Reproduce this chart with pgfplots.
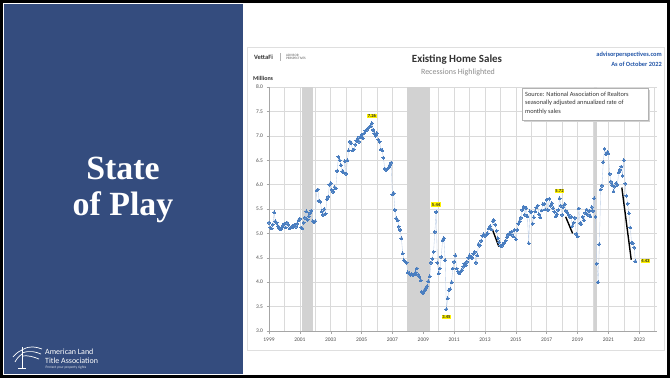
\documentclass[border=0pt]{standalone}
\usepackage{fontspec}
\setmainfont{Carlito}
\newfontfamily\tnr{Liberation Serif}
\usepackage{pgfplots}
\pgfplotsset{compat=1.18}
\usepackage{pgfplotstable}
\definecolor{panel}{HTML}{344C7E}
\definecolor{dots}{HTML}{4A7EC0}
\definecolor{dotline}{HTML}{BBCDE6}
\definecolor{rec}{HTML}{D2D2D2}
\definecolor{apblue}{HTML}{2356A8}
\definecolor{gridc}{HTML}{DADADA}
\definecolor{hl}{HTML}{FFF200}

% Existing home sales, SAAR millions, monthly from Jan 1999 to Oct 2022
\pgfplotstableread{
v
5.22
5.12
5.10
5.18
5.43
5.25
5.22
5.15
5.10
5.08
5.12
5.17
5.20
5.12
5.22
5.18
5.10
5.12
5.15
5.13
5.18
5.14
5.20
5.27
5.30
5.12
5.10
5.22
5.32
5.45
5.28
5.35
5.42
5.47
5.25
5.24
5.25
5.88
5.90
5.67
5.65
5.45
5.38
5.50
5.40
5.70
5.75
6.00
6.03
5.89
5.85
5.95
5.92
6.28
6.57
6.50
6.40
6.27
6.25
6.48
6.22
6.50
6.70
6.88
6.85
6.70
6.72
6.82
6.90
6.95
6.88
6.98
7.02
6.95
7.05
7.10
7.12
7.15
7.18
7.20
7.26
7.12
7.05
7.00
7.05
6.92
6.88
6.72
6.70
6.55
6.33
6.30
6.32
6.35
6.40
6.45
5.80
5.82
5.48
5.31
5.27
5.14
5.07
4.90
4.59
4.45
4.42
4.40
4.20
4.18
4.15
4.17
4.15
4.16
4.20
4.28
4.15
4.11
4.04
3.80
3.78
3.84
3.88
3.92
4.02
4.12
4.40
4.48
4.62
5.03
5.44
4.40
4.18
4.28
4.52
4.86
4.90
4.45
3.45
3.67
3.84
3.86
4.00
4.28
4.42
4.55
4.28
4.22
4.18
4.22
4.25
4.32
4.38
4.35
4.42
4.50
4.55
4.52
4.50
4.58
4.62
4.40
4.55
4.78
4.75
4.85
4.95
4.98
4.95
4.98
5.00
5.10
5.15
5.08
5.25
5.27
5.18
5.05
4.90
4.82
4.75
4.74
4.78
4.80
4.85
4.92
4.97
5.00
4.98
5.04
4.94
5.07
4.88
5.07
5.20
5.25
5.32
5.48
5.55
5.38
5.52
5.35
4.80
5.45
5.44
5.20
5.33
5.45
5.53
5.57
5.39
5.33
5.47
5.60
5.61
5.49
5.69
5.48
5.71
5.57
5.62
5.52
5.44
5.35
5.39
5.48
5.72
5.57
5.38
5.54
5.60
5.46
5.43
5.38
5.34
5.34
5.15
5.22
5.32
4.99
4.94
5.51
5.21
5.19
5.34
5.27
5.42
5.49
5.38
5.46
5.35
5.54
5.46
5.72
5.34
4.38
4.00
4.78
5.90
5.98
6.46
6.73
6.62
6.66
6.64
6.22
6.06
5.99
5.86
5.96
6.03
6.00
6.25
6.30
6.37
6.18
6.50
6.02
5.77
5.61
5.41
5.12
4.81
4.80
4.71
4.43
}\sales

\begin{document}
\begin{tikzpicture}
\path[use as bounding box] (0bp,0bp) rectangle (670bp,-378bp);
% slide frame and panels
\fill[black] (0bp,0bp) rectangle (670bp,-378bp);
\fill[white] (3bp,-3bp) rectangle (667bp,-375bp);
\fill[panel] (4bp,-4bp) rectangle (243bp,-374bp);
\draw[gray!25, line width=0.6bp] (247bp,-47bp) rectangle (664bp,-350bp);

% left panel title
\node[white, font=\tnr\bfseries\fontsize{34}{37}\selectfont, align=center] at (123bp,-190bp) {State\\of Play};

% logo
\begin{scope}[white, line width=0.7bp]
\draw (22bp,-347bp) -- (22bp,-368bp);
\draw (18bp,-368bp) -- (26bp,-368bp);
\draw (22bp,-350bp) .. controls (30bp,-345bp) and (36bp,-347bp) .. (42bp,-349bp);
\draw (22bp,-353bp) .. controls (30bp,-350bp) and (36bp,-352bp) .. (41bp,-354bp);
\draw (22bp,-356bp) .. controls (28bp,-355bp) and (34bp,-357bp) .. (39bp,-359bp);
\draw (22bp,-350bp) .. controls (17bp,-352bp) and (15bp,-355bp) .. (13bp,-357bp);
\draw (22bp,-354bp) .. controls (18bp,-357bp) and (16bp,-360bp) .. (15bp,-362bp);
\end{scope}
\node[white, anchor=west, font=\fontsize{8}{8}\selectfont, inner sep=0pt] at (45bp,-352bp) {American Land};
\node[white, anchor=west, font=\fontsize{8}{8}\selectfont, inner sep=0pt] at (45bp,-361bp) {Title Association};
\node[white!85!panel, anchor=west, font=\fontsize{3.6}{4}\selectfont, inner sep=0pt] at (45.5bp,-368bp) {Protect your property rights};

% chart header
\node[anchor=west, font=\bfseries\fontsize{6.5}{7}\selectfont, inner sep=0pt, text=black!80] at (254bp,-57bp) {VettaFi};
\draw[gray!60, line width=0.4bp] (280bp,-53bp) -- (280bp,-61bp);
\node[anchor=west, font=\fontsize{3.4}{3.6}\selectfont, inner sep=0pt, text=black!65, align=left] at (286bp,-57bp) {ADVISOR\\PERSPECTIVES};
\node[font=\bfseries\fontsize{11}{12}\selectfont, text=black!80] at (457bp,-60bp) {Existing Home Sales};
\node[font=\fontsize{8}{9}\selectfont, text=black!45] at (458bp,-72bp) {Recessions Highlighted};
\node[anchor=east, font=\bfseries\fontsize{6.4}{7}\selectfont, text=apblue, inner sep=0pt] at (662bp,-55bp) {advisorperspectives.com};
\node[anchor=east, font=\bfseries\fontsize{6.4}{7}\selectfont, text=apblue, inner sep=0pt] at (662bp,-64bp) {As of October 2022};
\node[anchor=west, font=\bfseries\fontsize{6}{7}\selectfont, text=black!80, inner sep=0pt] at (253bp,-78bp) {Millions};

\begin{axis}[
  at={(269bp,-331bp)}, anchor=south west,
  scale only axis, width=388bp, height=244bp,
  xmin=1999, xmax=2024.15, ymin=3, ymax=8,
  axis x line*=bottom, axis y line*=left,
  xtick={1999,2001,2003,2005,2007,2009,2011,2013,2015,2017,2019,2021,2023},
  minor xtick={2000,2002,2004,2006,2008,2010,2012,2014,2016,2018,2020,2022,2024},
  ytick={3,3.5,4,4.5,5,5.5,6,6.5,7,7.5,8},
  grid=both,
  major grid style={gridc, line width=0.5bp},
  minor grid style={gridc, line width=0.5bp},
  axis line style={gray!70, line width=0.5bp},
  tick style={gray!70, line width=0.4bp},
  tick align=outside, major tick length=2.5bp, minor tick length=0bp,
  /pgf/number format/assume math mode=true,
  /pgf/number format/1000 sep={},
  xticklabel style={font=\fontsize{5.5}{6}\selectfont, text=black!70, yshift=-1bp},
  yticklabel style={font=\fontsize{5.5}{6}\selectfont, text=black!70,
    /pgf/number format/fixed, /pgf/number format/fixed zerofill, /pgf/number format/precision=1},
  clip=false,
]
% recessions
\addplot[fill=rec, draw=none] coordinates {(2001.17,3) (2001.17,8) (2001.87,8) (2001.87,3)} -- cycle;
\addplot[fill=rec, draw=none] coordinates {(2007.92,3) (2007.92,8) (2009.42,8) (2009.42,3)} -- cycle;
\addplot[fill=rec, draw=none] coordinates {(2020.08,3) (2020.08,8) (2020.27,8) (2020.27,3)} -- cycle;
% data
\addplot[dotline, line width=0.35bp, mark=*, mark size=1.45bp,
  mark options={fill=dots, draw=dots, line width=0bp}]
  table[x expr={1999+\coordindex/12}, y=v] {\sales};
% trend annotations
\addplot[black, line width=1.4bp, no markers] coordinates {(2013.47,5.09) (2013.90,4.73)};
\addplot[black, line width=1.4bp, no markers] coordinates {(2018.23,5.34) (2018.68,5.00)};
\addplot[black, line width=1.4bp, no markers] coordinates {(2021.87,5.94) (2022.48,4.46)};
% value labels
\tikzset{vl/.style={fill=hl, font=\bfseries\fontsize{4.6}{5}\selectfont, inner sep=0.7bp, text=black!85}}
\node[vl, anchor=south, yshift=4.5bp] at (axis cs:2005.67,7.26) {7.26};
\node[vl, anchor=south, yshift=5bp] at (axis cs:2009.83,5.44) {5.44};
\node[vl, anchor=north, yshift=-5.5bp] at (axis cs:2010.50,3.45) {3.45};
\node[vl, anchor=south, yshift=5bp] at (axis cs:2017.83,5.72) {5.72};
\node[vl, anchor=west, xshift=5bp] at (axis cs:2022.75,4.43) {4.43};
\end{axis}

% source box
\fill[gray!35] (524bp,-90bp) rectangle (650bp,-122bp);
\filldraw[fill=white, draw=gray!60, line width=0.5bp] (522bp,-88bp) rectangle (648bp,-120bp);
\node[anchor=north west, align=left, font=\fontsize{6.4}{8.5}\selectfont, text=black!80, inner sep=0pt] at (525bp,-91.5bp)
  {Source: National Association of Realtors\\seasonally adjusted annualized rate of\\monthly sales};
\end{tikzpicture}
\end{document}
